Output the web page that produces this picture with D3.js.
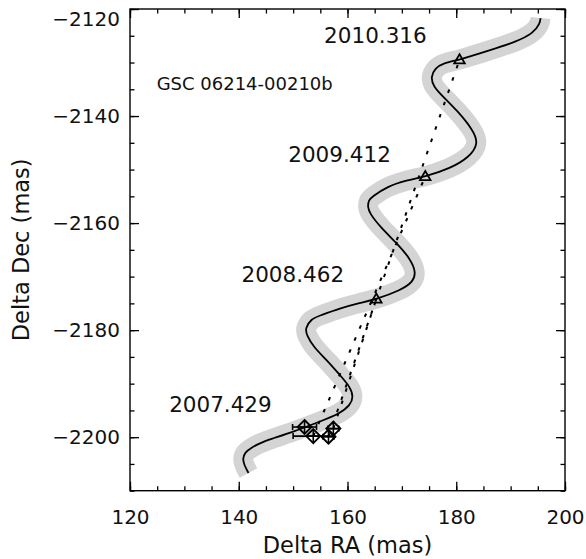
<!DOCTYPE html>
<html>
<head>
<meta charset="utf-8">
<script src="https://cdn.jsdelivr.net/npm/d3@7"></script>
<style>
  html, body { margin: 0; padding: 0; background: #fff; }
  svg { display: block; }
  text { font-family: "DejaVu Sans", sans-serif; fill: #111; }
</style>
</head>
<body>
<svg id="chart" width="586" height="559"></svg>
<script>
// ---- data ----
const curveRA = [141.8, 141.0, 140.7, 141.2, 142.1, 143.9, 145.8, 150.0, 154.9, 158.6, 160.5, 161.1, 160.5, 158.6, 156.2, 153.7, 152.5, 152.2, 153.3, 154.9, 158.6, 162.3, 165.3, 169.7, 172.1, 172.6, 171.5, 169.1, 166.0, 164.1, 163.7, 163.9, 164.5, 167.2, 170.9, 174.3, 178.9, 182.5, 184.1, 183.1, 180.1, 177.6, 175.8, 175.3, 176.1, 177.6, 180.6, 186.2, 191.1, 194.2, 195.4, 195.5];
const curveDec = [-2206.7, -2205.2, -2204.0, -2202.8, -2202.1, -2201.1, -2200.4, -2199.0, -2197.1, -2195.6, -2194.0, -2192.5, -2190.6, -2188.4, -2185.6, -2183.1, -2180.9, -2179.7, -2177.9, -2177.3, -2175.9, -2174.9, -2174.2, -2172.6, -2171.0, -2169.1, -2166.6, -2163.8, -2160.7, -2158.2, -2157.0, -2155.7, -2155.1, -2153.2, -2152.0, -2151.3, -2149.8, -2147.6, -2145.1, -2142.6, -2138.9, -2136.4, -2134.5, -2132.7, -2131.1, -2130.1, -2129.5, -2127.7, -2126.1, -2124.5, -2122.7, -2121.7];

const epochs = ["2007.429", "2008.462", "2009.412", "2010.316"];
const measRA = [152.1, 157.4, 153.7, 156.5];
const measDec = [-2198.1, -2198.4, -2199.8, -2199.9];
const measRAerr = [2.2, 1.0, 3.7, 1.0];
const predRA = [152.1, 165.3, 174.3, 180.6];
const predDec = [-2198.1, -2174.2, -2151.3, -2129.5];

// label anchor positions (data coords)
const labelRA = [127.2, 140.5, 149.1, 155.7];
const labelDec = [-2195.3, -2171.1, -2148.5, -2126.4];
const starName = "GSC 06214-00210b";

const xMajor = [120, 140, 160, 180, 200];
const yMajor = [-2200, -2180, -2160, -2140, -2120];
const xMinor = d3.range(120, 201, 5);
const yMinor = d3.range(-2210, -2119, 5);

// ---- layout ----
const svg = d3.select("#chart");
const L = 130, R = 565, T = 9, B = 490.7;
const x = d3.scaleLinear().domain([120, 200]).range([L, R]);
const y = d3.scaleLinear().domain([-2210, -2120]).range([B, T]);

// band + curve
const pts = curveRA.map((r, i) => [r, curveDec[i]]);
const line = d3.line().x(d => x(d[0])).y(d => y(d[1])).curve(d3.curveBasis);

svg.append("path").attr("d", line(pts))
  .attr("fill", "none").attr("stroke", "#d4d4d4").attr("stroke-width", 20)
  .attr("stroke-linecap", "butt").attr("stroke-linejoin", "round");
svg.append("path").attr("d", line(pts))
  .attr("fill", "none").attr("stroke", "#000").attr("stroke-width", 1.8);

// dotted lines: measurement at epoch i -> predicted background position at epoch i
for (let i = 1; i < epochs.length; i++) {
  svg.append("line")
    .attr("x1", x(measRA[i])).attr("y1", y(measDec[i]))
    .attr("x2", x(predRA[i])).attr("y2", y(predDec[i]))
    .attr("stroke", "#000").attr("stroke-width", 2)
    .attr("stroke-dasharray", "3.5,9.5");
}

// predicted triangles
const tri = d3.symbol().type(d3.symbolTriangle).size(48);
for (let i = 1; i < epochs.length; i++) {
  svg.append("path").attr("d", tri())
    .attr("transform", `translate(${x(predRA[i])},${y(predDec[i]) + 0.5})`)
    .attr("fill", "none").attr("stroke", "#000").attr("stroke-width", 1.8);
}

// measurement error bars
for (let i = 0; i < epochs.length; i++) {
  const cy = y(measDec[i]);
  const x0 = x(measRA[i] - measRAerr[i]), x1 = x(measRA[i] + measRAerr[i]);
  svg.append("line").attr("x1", x0).attr("x2", x1).attr("y1", cy).attr("y2", cy)
    .attr("stroke", "#000").attr("stroke-width", 1.6);
  [x0, x1].forEach(xx => svg.append("line").attr("x1", xx).attr("x2", xx)
    .attr("y1", cy - 3).attr("y2", cy + 3).attr("stroke", "#000").attr("stroke-width", 1.6));
}
// diamonds with cross
const h = 7;
for (let i = 0; i < epochs.length; i++) {
  const cx = x(measRA[i]), cy = y(measDec[i]);
  const g = svg.append("g").attr("transform", `translate(${cx},${cy})`);
  g.append("path").attr("d", `M0,${-h}L${h},0L0,${h}L${-h},0Z`)
    .attr("fill", "none").attr("stroke", "#000").attr("stroke-width", 1.9);
  g.append("path").attr("d", `M${-h},0H${h}M0,${-h}V${h}`)
    .attr("stroke", "#000").attr("stroke-width", 1.6);
}

// epoch labels
for (let i = 0; i < epochs.length; i++) {
  svg.append("text").attr("x", x(labelRA[i])).attr("y", y(labelDec[i]))
    .attr("font-size", 21.5).text(epochs[i]);
}
svg.append("text").attr("x", x(124.9)).attr("y", y(-2135.1))
  .attr("font-size", 18).text(starName);

// axes
function styleAxis(g) {
  g.select(".domain").remove();
  g.selectAll("line").attr("stroke", "#000").attr("stroke-width", 1.3);
}
svg.append("g").attr("transform", `translate(0,${B})`)
  .call(d3.axisBottom(x).tickValues(xMinor).tickSize(-4.5).tickFormat(""))
  .call(styleAxis);
svg.append("g").attr("transform", `translate(0,${B})`)
  .call(d3.axisBottom(x).tickValues(xMajor).tickSize(-9).tickPadding(19).tickFormat(d3.format("d")))
  .call(styleAxis).call(g => g.selectAll("text").attr("font-size", 20).attr("fill", "#111"));
svg.append("g").attr("transform", `translate(0,${T})`)
  .call(d3.axisTop(x).tickValues(xMinor).tickSize(-4.5).tickFormat("")).call(styleAxis);
svg.append("g").attr("transform", `translate(0,${T})`)
  .call(d3.axisTop(x).tickValues(xMajor).tickSize(-9).tickFormat("")).call(styleAxis);

svg.append("g").attr("transform", `translate(${L},0)`)
  .call(d3.axisLeft(y).tickValues(yMinor).tickSize(-4.5).tickFormat("")).call(styleAxis);
svg.append("g").attr("transform", `translate(${L},0)`)
  .call(d3.axisLeft(y).tickValues(yMajor).tickSize(-9).tickPadding(10).tickFormat(d3.format("d")))
  .call(styleAxis)
  .call(g => g.selectAll("text").attr("font-size", 20).attr("fill", "#111"))
  .call(g => g.selectAll(".tick").filter(d => d === -2120).select("text").attr("dy", "0.82em"));
svg.append("g").attr("transform", `translate(${R},0)`)
  .call(d3.axisRight(y).tickValues(yMinor).tickSize(-4.5).tickFormat("")).call(styleAxis);
svg.append("g").attr("transform", `translate(${R},0)`)
  .call(d3.axisRight(y).tickValues(yMajor).tickSize(-9).tickFormat("")).call(styleAxis);

// frame
svg.append("rect").attr("x", L).attr("y", T).attr("width", R - L).attr("height", B - T)
  .attr("fill", "none").attr("stroke", "#000").attr("stroke-width", 1.4);

// axis titles
svg.append("text").attr("x", (L + R) / 2).attr("y", 553).attr("text-anchor", "middle")
  .attr("font-size", 22.5).text("Delta RA (mas)");
svg.append("text").attr("transform", `translate(29,${(T + B) / 2}) rotate(-90)`)
  .attr("text-anchor", "middle").attr("font-size", 22.5).text("Delta Dec (mas)");
</script>
</body>
</html>
